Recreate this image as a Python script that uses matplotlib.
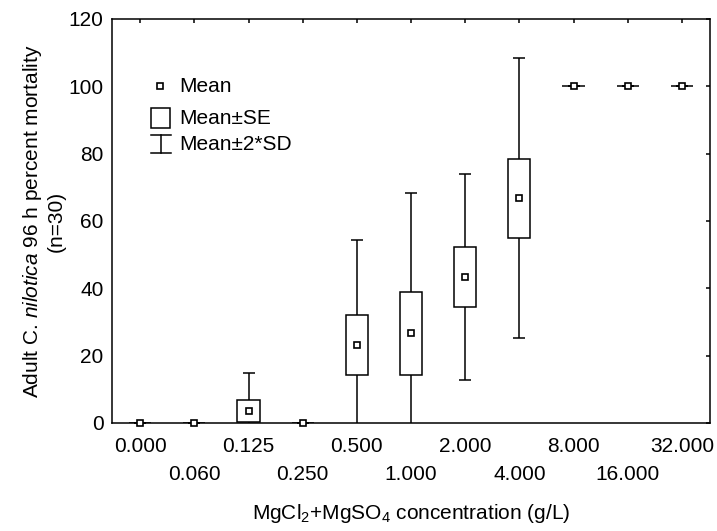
import matplotlib
matplotlib.use("Agg")
import matplotlib.pyplot as plt
import numpy as np

plt.rcParams['font.family'] = ['Liberation Sans', 'DejaVu Sans']
plt.rcParams['mathtext.fontset'] = 'custom'
plt.rcParams['mathtext.rm'] = 'Liberation Sans'
plt.rcParams['mathtext.it'] = 'Liberation Sans:italic'

# concentration groups (g/L)
categories = ['0.000', '0.060', '0.125', '0.250', '0.500', '1.000',
              '2.000', '4.000', '8.000', '16.000', '32.000']
# percent mortality
mean = [0, 0, 3.5, 0, 23.3, 26.7, 43.4, 66.7, 100, 100, 100]
se = [0, 0, 3.2, 0, 8.9, 12.3, 8.8, 11.8, 0, 0, 0]
sd2 = [0, 0, 11.3, 0, 31.1, 41.6, 30.6, 41.6, 0, 0, 0]

x = np.arange(len(categories))
mean = np.array(mean)
se = np.array(se)

fig = plt.figure(figsize=(7.17, 5.31), dpi=100)
ax = fig.add_axes([112 / 717, 1 - 423 / 531, (710 - 112) / 717, (423 - 19) / 531])

lw = 1.1
# whiskers (mean +- 2*SD)
ax.errorbar(x, mean, yerr=sd2, fmt='none', ecolor='black', elinewidth=lw,
            capsize=4.6, capthick=lw, zorder=2)
# boxes (mean +- SE)
ax.bar(x, 2 * se, bottom=mean - se, width=0.41, color='white',
       edgecolor='black', linewidth=lw, zorder=3)
# mean markers
ax.plot(x, mean, 's', ms=4.3, mfc='white', mec='black', mew=1.2,
        zorder=4, clip_on=False)

ax.set_xlim(-0.52, 10.52)
ax.set_ylim(0, 120)
ax.set_yticks(np.arange(0, 121, 20))

ax.set_xticks(x[::2])
ax.set_xticklabels(categories[::2])
ax.set_xticks(x[1::2], minor=True)
ax.set_xticklabels(categories[1::2], minor=True)

fs = 15
ax.tick_params(axis='x', which='major', bottom=False, top=True, direction='in',
               length=3, width=lw, labelsize=fs, pad=10)
ax.tick_params(axis='x', which='minor', bottom=False, top=True, direction='in',
               length=3, width=lw, labelsize=fs, pad=30)
ax.tick_params(axis='y', left=False, right=True, direction='in',
               length=3, width=lw, labelsize=fs, pad=6)
for s in ax.spines.values():
    s.set_linewidth(lw)

ax.set_xlabel(r'MgCl$_2$+MgSO$_4$ concentration (g/L)', fontsize=fs, labelpad=13)
ax.set_ylabel('Adult C. $\\mathit{nilotica}$ 96 h percent mortality\n(n=30)',
              fontsize=fs, labelpad=2, linespacing=1.2)


# legend drawn by hand, pixel positions converted to axes fractions
def px(xp, yp):
    return (xp - 112) / (710 - 112), (423 - yp) / (423 - 19)


tr = ax.transAxes
mx, my = px(160, 86)
ax.plot([mx], [my], 's', ms=4.3, mfc='white', mec='black', mew=1.2, transform=tr)
ax.text(*px(179, 86), 'Mean', transform=tr, fontsize=fs, va='center')

bx0, by0 = px(151, 128)
bx1, by1 = px(170, 108)
ax.add_patch(plt.Rectangle((bx0, by0), bx1 - bx0, by1 - by0, transform=tr,
                           facecolor='white', edgecolor='black', linewidth=lw))
ax.text(*px(179, 118), 'Mean±SE', transform=tr, fontsize=fs, va='center')

wx, wt = px(161, 135)
_, wb = px(161, 153)
cl, _ = px(151, 0)
cr, _ = px(171, 0)
ax.plot([wx, wx], [wb, wt], color='black', lw=lw, transform=tr)
ax.plot([cl, cr], [wt, wt], color='black', lw=lw, transform=tr)
ax.plot([cl, cr], [wb, wb], color='black', lw=lw, transform=tr)
ax.text(*px(179, 145), 'Mean±2*SD', transform=tr, fontsize=fs, va='center')

fig.savefig('out.png', dpi=100)
